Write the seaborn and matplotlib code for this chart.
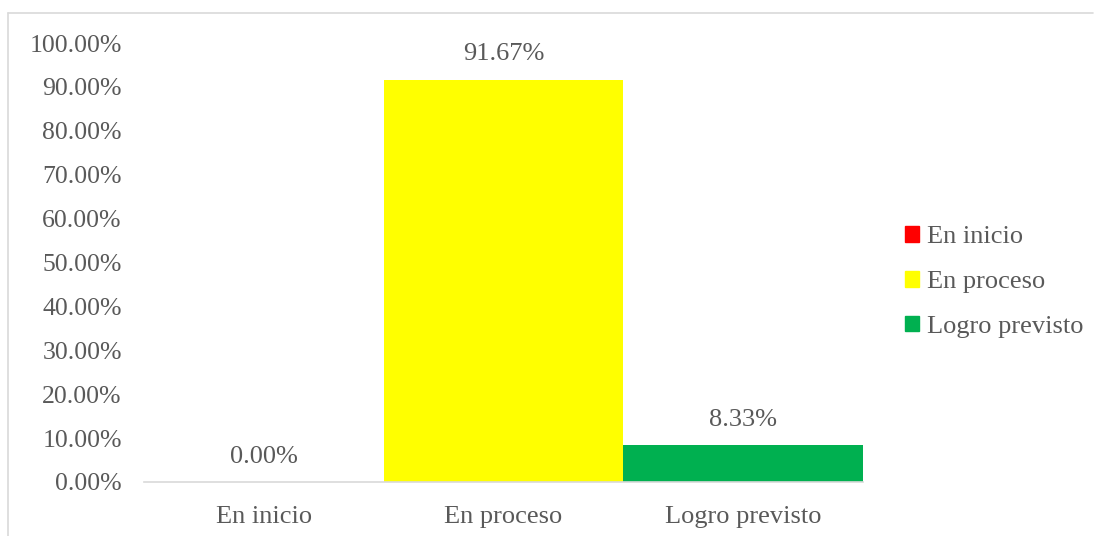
import matplotlib
matplotlib.use("Agg")
import matplotlib.pyplot as plt
import seaborn as sns
import pandas as pd
from matplotlib.patches import Rectangle
from matplotlib.lines import Line2D

categories = ["En inicio", "En proceso", "Logro previsto"]
values = [0.0, 91.67, 8.33]
colors = ["#FF0000", "#FFFF00", "#00B050"]
ytick_vals = list(range(0, 101, 10))

sns.set_theme(style="white")
plt.rcParams['font.family'] = ['Liberation Serif', 'DejaVu Serif']

TXT = "#595959"
df = pd.DataFrame({"cat": categories, "val": values})

fig = plt.figure(figsize=(10.94, 5.36), dpi=100)
ax = fig.add_axes([144/1094, 1-482/536, (863-144)/1094, (482-43)/536])

sns.barplot(data=df, x="cat", y="val", hue="cat", palette=colors,
            width=1.0, dodge=False, ax=ax, legend=False, saturation=1, linewidth=0)

ax.set_ylim(0, 100)
ax.set_xlim(-0.5, 2.5)
ax.set_yticks(ytick_vals)
ax.set_yticklabels([f"{v:.2f}%" for v in ytick_vals], fontsize=18.5, color=TXT)
ax.set_xticks(range(len(categories)))
ax.set_xticklabels(categories, fontsize=19, color=TXT)
ax.tick_params(axis='x', length=0, pad=17)
ax.tick_params(axis='y', length=0, pad=16)
ax.set_xlabel("")
ax.set_ylabel("")
for s in ["top", "right", "left"]:
    ax.spines[s].set_visible(False)
ax.spines["bottom"].set_color("#D9D9D9")
ax.spines["bottom"].set_linewidth(1.2)

for i, v in enumerate(values):
    ax.text(i, v + 3.3, f"{v:.2f}%", ha="center", va="bottom", fontsize=19, color=TXT)

handles = [Rectangle((0, 0), 1, 1, color=c) for c in colors]
leg = fig.legend(handles, categories, loc="center left", bbox_to_anchor=(881/1094, 1-282/536),
                 frameon=False, fontsize=19, handlelength=0.55, handleheight=0.55,
                 handletextpad=0.3, labelspacing=0.85, labelcolor=TXT)

fig.add_artist(Line2D([8/1094, 1093/1094], [1-13/536, 1-13/536], transform=fig.transFigure,
                      color="#D9D9D9", linewidth=1.2))
fig.add_artist(Line2D([8/1094, 8/1094], [0, 1-13/536], transform=fig.transFigure,
                      color="#D9D9D9", linewidth=1.2))

fig.savefig("out.png", dpi=100)
